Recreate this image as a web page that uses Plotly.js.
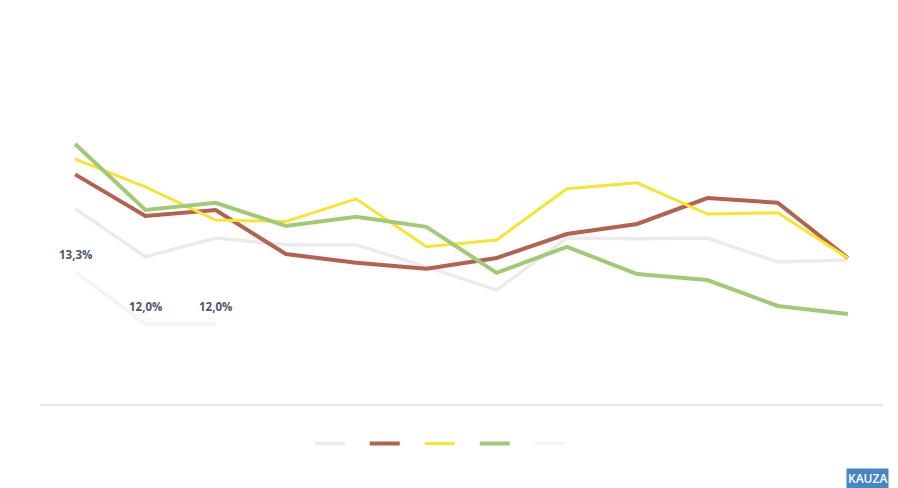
<!DOCTYPE html>
<html><head><meta charset="utf-8">
<script src="https://cdn.plot.ly/plotly-3.0.1.min.js"></script>
<style>html,body{margin:0;padding:0;background:#fff}#chart{width:898px;height:488px}</style>
</head><body><div id="chart"></div>
<script>
const categories = ['1','2','3','4','5','6','7','8','9','10','11','12'];
const seriesGray   = [14.88,13.68,14.15,13.98,13.98,13.43,12.85,14.15,14.13,14.15,13.55,13.6];
const seriesBrown  = [15.74,14.7,14.85,13.75,13.53,13.38,13.65,14.25,14.5,15.15,15.03,13.65];
const seriesYellow = [16.12,15.43,14.6,14.56,15.13,13.93,14.1,15.38,15.53,14.75,14.78,13.65];
const seriesGreen  = [16.5,14.85,15.03,14.45,14.68,14.43,13.28,13.93,13.25,13.1,12.45,12.25];
const seriesFaint  = [13.3,12.0,12.0];
const seriesNames  = ['A','B','C','D','E'];
const colors = ['#ebebeb','#b5614f','#f6e431','#a0ca74','#f4f4f4'];
const widths = [3.5,4,3,4,3.5];
const allSeries = [seriesGray, seriesBrown, seriesYellow, seriesGreen, seriesFaint];

const traces = allSeries.map((s,i)=>({
  type:'scatter',
  x: categories.slice(0, s.length),
  y: s,
  name: seriesNames[i],
  mode: 'lines',
  line: {color: colors[i], width: widths[i]},
  hoverinfo:'skip'
}));
const order = [4,0,1,2,3];
const data = order.map(i=>traces[i]);
data.forEach(t=>{ t.legendrank = seriesNames.indexOf(t.name); });

const labelAnns = seriesFaint.map((v,i)=>({
  x: i, y: v, xref:'x', yref:'y',
  text: v.toFixed(1).replace('.', ',') + '%',
  showarrow:false, yanchor:'middle', yshift:18,
  font:{family:'Open Sans, sans-serif', size:11.5, color:'#4f5666', weight:700}
}));

const layout = {
  width:898, height:488,
  margin:{l:40, r:15, t:20, b:84},
  paper_bgcolor:'#fff', plot_bgcolor:'#fff',
  showlegend:true,
  legend:{orientation:'h', x:0.32, xanchor:'left', y:-0.065, yanchor:'top',
          font:{color:'#ffffff', size:11}, entrywidth:10, entrywidthmode:'pixels',
          traceorder:'normal', itemwidth:30},
  xaxis:{type:'category', range:[-0.5,11.5], showgrid:false, zeroline:false,
         showline:true, linecolor:'#e6e6e6', linewidth:2, showticklabels:false, ticks:''},
  yaxis:{range:[10,19.6], showgrid:false, zeroline:false, showline:false, showticklabels:false, ticks:''},
  annotations: labelAnns.concat([{xref:'paper', yref:'paper', x:1.007, y:-0.166, xanchor:'right', yanchor:'top',
    text:'KAUZA', showarrow:false, bgcolor:'#4785c4', font:{family:'Open Sans, sans-serif', size:12, color:'#fff', weight:600}, borderpad:1}])
};
Plotly.newPlot('chart', data, layout, {staticPlot:true});
</script></body></html>
